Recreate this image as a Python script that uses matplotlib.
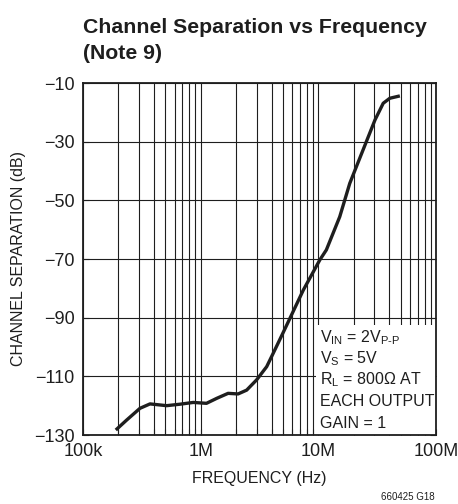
import matplotlib
matplotlib.use("Agg")
import matplotlib.pyplot as plt
from matplotlib.patches import Rectangle
from matplotlib.ticker import FixedLocator, LogLocator, NullFormatter

# curve
freq_hz = [190e3, 235e3, 305e3, 371e3, 514e3, 667e3, 865e3, 1.12e6, 1.37e6,
           1.71e6, 2.08e6, 2.46e6, 2.99e6, 3.64e6, 4.14e6, 4.9e6, 5.74e6,
           7.45e6, 10.3e6, 11.7e6, 15.2e6, 18.5e6, 24.0e6, 30.3e6, 35.6e6,
           40.5e6, 49.3e6]
sep_db = [-128.3, -124.9, -120.9, -119.4, -120.0, -119.5, -118.9, -119.2, -117.5,
          -115.8, -116.0, -114.7, -111.2, -106.7, -102.1, -96.0, -90.2,
          -80.6, -70.3, -66.9, -55.6, -44.2, -32.8, -22.6, -16.9,
          -15.2, -14.4]

y_ticks = [-10, -30, -50, -70, -90, -110, -130]
y_labels = ["\u221210", "\u221230", "\u221250", "\u221270", "\u221290", "\u2212110", "\u2212130"]
x_ticks = [1e5, 1e6, 1e7, 1e8]
x_labels = ["100k", "1M", "10M", "100M"]

note_lines = [r"V$_{\mathrm{IN}}$ = 2V$_{\mathrm{P\text{-}P}}$",
              r"V$_{\mathrm{S}}$ = 5V",
              r"R$_{\mathrm{L}}$ = 800$\Omega$ AT",
              "EACH OUTPUT",
              "GAIN = 1"]

plt.rcParams["font.family"] = ["Liberation Sans", "DejaVu Sans"]
plt.rcParams["mathtext.fontset"] = "custom"
plt.rcParams["mathtext.rm"] = "Liberation Sans"
plt.rcParams["mathtext.it"] = "Liberation Sans"

ink = "#1e1e1e"
fig = plt.figure(figsize=(4.58, 5.04), dpi=100)
ax = fig.add_axes([83 / 458, 1 - 435 / 504, 353 / 458, 352 / 504])

ax.set_xscale("log")
ax.set_xlim(1e5, 1e8)
ax.set_ylim(-130, -10)

ax.xaxis.set_major_locator(FixedLocator(x_ticks))
ax.xaxis.set_minor_locator(LogLocator(base=10, subs=range(2, 10)))
ax.xaxis.set_minor_formatter(NullFormatter())
ax.set_xticks(x_ticks, x_labels)
ax.set_yticks(y_ticks, y_labels)

ax.grid(True, which="both", axis="x", color=ink, lw=0.8)
ax.grid(True, which="major", axis="y", color=ink, lw=0.8)
ax.tick_params(axis="both", which="both", direction="in", length=4,
               width=0.8, top=False, right=True, labelsize=13, colors=ink)
ax.tick_params(axis="x", which="major", pad=6)
ax.tick_params(axis="y", which="major", pad=6)
for s in ax.spines.values():
    s.set_linewidth(1.3)
    s.set_color(ink)

ax.plot(freq_hz, sep_db, color=ink, lw=2.4, solid_capstyle="butt",
        solid_joinstyle="round", zorder=4)

# white note box covering grid in lower-right
ax.add_patch(Rectangle((0.66, 0.0), 0.34, 0.313, transform=ax.transAxes,
                       facecolor="white", edgecolor="none", zorder=2.5))
ys = [338, 359, 380, 401, 423]
for line, yp in zip(note_lines, ys):
    fig.text(320 / 458, 1 - yp / 504, line, fontsize=11.5, color=ink,
             ha="left", va="center")

ax.set_xlabel("FREQUENCY (Hz)", fontsize=11.5, color=ink, labelpad=8)
ax.set_ylabel("CHANNEL SEPARATION (dB)", fontsize=11.5, color=ink, labelpad=6)

fig.text(83 / 458, 1 - 33 / 504, "Channel Separation vs Frequency",
         fontsize=15.3, fontweight="bold", color=ink, ha="left", va="baseline")
fig.text(83 / 458, 1 - 59 / 504, "(Note 9)",
         fontsize=15.3, fontweight="bold", color=ink, ha="left", va="baseline")
fig.text(435 / 458, 1 - 497 / 504, "660425 G18", fontsize=7, color=ink,
         ha="right", va="center")

fig.savefig("out.png", dpi=100)
